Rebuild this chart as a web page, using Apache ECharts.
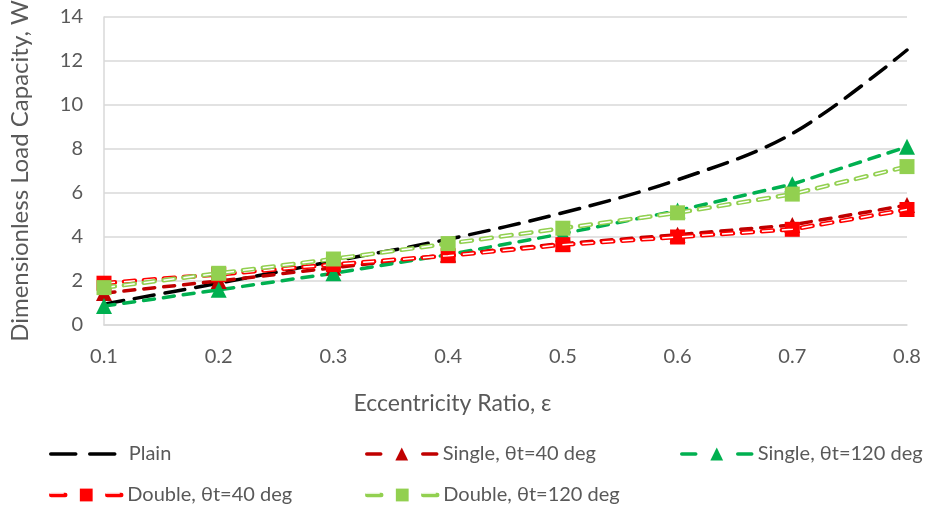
<!DOCTYPE html>
<html>
<head>
<meta charset="utf-8">
<script src="https://cdn.jsdelivr.net/npm/echarts@6/dist/echarts.min.js"></script>
<style>
  html, body { margin: 0; padding: 0; background: #fff; }
  #main { width: 934px; height: 513px; }
</style>
</head>
<body>
<div id="main"></div>
<script>
// eccentricity ratio
var eps = [0.1, 0.2, 0.3, 0.4, 0.5, 0.6, 0.7, 0.8];
var plain = [0.95, 1.9, 2.9, 3.9, 5.1, 6.6, 8.7, 12.5];
var single40 = [1.45, 2.0, 2.6, 3.2, 3.7, 4.1, 4.55, 5.45];
var single120 = [0.86, 1.6, 2.35, 3.2, 4.15, 5.2, 6.4, 8.1];
var double40 = [1.9, 2.3, 2.75, 3.15, 3.65, 4.0, 4.35, 5.25];
var double120 = [1.7, 2.35, 3.0, 3.7, 4.4, 5.1, 5.95, 7.2];

var FONT = 'Lato, "Noto Sans", sans-serif';
var TXT = '#595959';

function pairs(ys) {
  return eps.map(function (x, i) { return [x, ys[i]]; });
}

function lineSeries(name, ys, color, symbol, size, dash, width, z) {
  return {
    name: name,
    type: 'line',
    data: pairs(ys),
    symbol: symbol,
    symbolSize: size,
    showSymbol: symbol !== 'none',
    itemStyle: { color: color },
    lineStyle: { color: color, width: width, type: dash, cap: 'round' },
    z: z,
    animation: false
  };
}

var chart = echarts.init(document.getElementById('main'));

var plainS = lineSeries('Plain', plain, '#000000', 'none', 0, [20, 11], 3.5, 2);
plainS.smooth = 0.35;

// white core drawn over the double-groove lines -> hollow dashes
var d40White = lineSeries('d40w', double40, '#ffffff', 'none', 0, [11, 9], 1.5, 3);
d40White.lineStyle.cap = 'butt';
var d120White = lineSeries('d120w', double120, '#ffffff', 'none', 0, [11, 9], 1.5, 4);
d120White.lineStyle.cap = 'butt';

function legendAt(name, left, top, width, extra) {
  var l = {
    data: [name],
    left: left,
    top: top,
    itemWidth: 70,
    itemHeight: 16,
    itemGap: 0,
    padding: 0,
    selectedMode: false,
    textStyle: { color: TXT, fontSize: 20, fontFamily: FONT, padding: [0, 0, 0, 1] },
    lineStyle: { type: [14, 42], cap: 'round', width: width }
  };
  if (extra) { for (var k in extra) l[k] = extra[k]; }
  return l;
}

function coreLegend(name, left, top) {
  return legendAt(name, left, top, 1.5, {
    formatter: function () { return ''; },
    textStyle: { color: 'rgba(0,0,0,0)', fontSize: 20 },
    itemStyle: { opacity: 0 },
    lineStyle: { type: [14, 42], cap: 'butt', width: 1.5, color: '#ffffff' }
  });
}

chart.setOption({
  backgroundColor: '#ffffff',
  grid: { left: 104, right: 27, top: 17, bottom: 188, outerBoundsMode: 'none' },
  xAxis: {
    type: 'value',
    min: 0.1,
    max: 0.8,
    interval: 0.1,
    name: 'Eccentricity Ratio, ε',
    nameLocation: 'middle',
    nameGap: 67,
    nameTextStyle: { color: TXT, fontSize: 23, fontFamily: FONT, padding: [0, 106, 0, 0] },
    axisLine: { show: true, lineStyle: { color: '#D9D9D9', width: 1.5 } },
    axisTick: { show: false },
    splitLine: { show: false },
    axisLabel: {
      color: TXT, fontSize: 20, fontFamily: FONT, margin: 22,
      formatter: function (v) { return v.toFixed(1); }
    }
  },
  yAxis: {
    type: 'value',
    min: 0,
    max: 14,
    interval: 2,
    name: 'Dimensionless Load Capacity, W',
    nameLocation: 'middle',
    nameGap: 72,
    nameTextStyle: { color: TXT, fontSize: 24, fontFamily: FONT },
    axisLine: { show: true, lineStyle: { color: '#D9D9D9', width: 1.5 } },
    axisTick: { show: false },
    splitLine: { show: true, lineStyle: { color: '#D9D9D9', width: 1.5 } },
    axisLabel: { color: TXT, fontSize: 20, fontFamily: FONT, margin: 21 }
  },
  legend: [
    legendAt('Plain', 49, 444, 3.5, {
      itemWidth: 66,
      itemStyle: { opacity: 0 },
      lineStyle: { type: [25, 14], cap: 'round', width: 3.5 },
      textStyle: { color: TXT, fontSize: 20, fontFamily: FONT, padding: [0, 0, 0, 7] }
    }),
    legendAt('Single, θt=40 deg', 365, 444, 3.5),
    legendAt('Single, θt=120 deg', 680, 444, 3.5),
    legendAt('Double, θt=40 deg', 49, 485, 4.5),
    coreLegend('d40w', 49, 485),
    legendAt('Double, θt=120 deg', 365, 485, 4.5),
    coreLegend('d120w', 365, 485)
  ],
  series: [
    plainS,
    lineSeries('Single, θt=40 deg', single40, '#C00000', 'triangle', 16, [11, 9], 3.5, 2),
    lineSeries('Single, θt=120 deg', single120, '#00B050', 'triangle', 16, [11, 9], 3.5, 2),
    lineSeries('Double, θt=40 deg', double40, '#FF0000', 'rect', 15, [11, 9], 4.5, 2),
    d40White,
    lineSeries('Double, θt=120 deg', double120, '#92D050', 'rect', 15, [11, 9], 4.5, 4),
    d120White
  ]
});
</script>
</body>
</html>
